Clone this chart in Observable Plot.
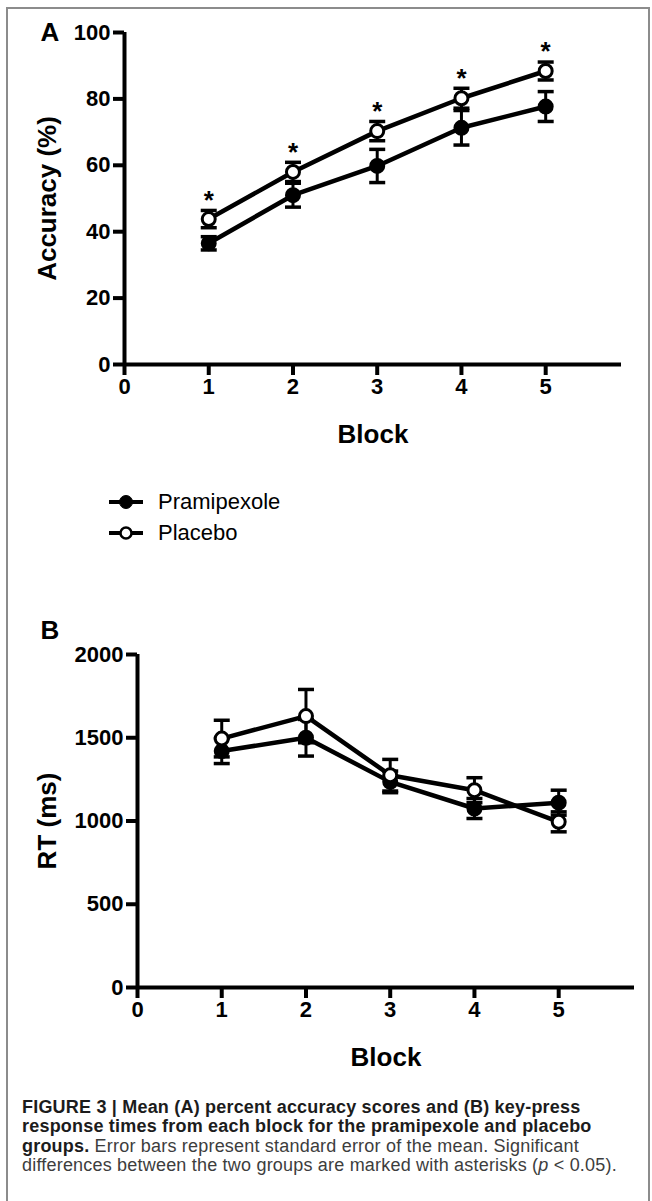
<!DOCTYPE html>
<html>
<head>
<meta charset="utf-8">
<script src="https://cdn.jsdelivr.net/npm/d3@7"></script>
<script src="https://cdn.jsdelivr.net/npm/@observablehq/plot@0.6"></script>
<style>
  body { margin: 0; background: #fff; }
  #page { position: relative; width: 652px; height: 1201px; overflow: hidden; background: #fff;
          font-family: "Liberation Sans", Arial, Helvetica, sans-serif; }
  #frame { position: absolute; left: 6px; top: 7px; width: 640px; height: 1210px;
           border-left: 2px solid #8c8c8c; border-top: 2px solid #8c8c8c; border-right: 2px solid #8c8c8c; }
  #plotA { position: absolute; left: 0; top: 0; }
  #plotB { position: absolute; left: 0; top: 600px; }
  #legend { position: absolute; left: 108px; top: 486px; font-size: 22px; color: #000; }
  .leg-row { display: flex; align-items: center; height: 31px; }
  .leg-row svg { margin-right: 14px; }
  #caption { position: absolute; left: 22px; top: 1098px; font-size: 18px; line-height: 19.4px;
             letter-spacing: 0.2px; white-space: nowrap; color: #3d3d3d; }
  #caption b { color: #1c1c1c; }
</style>
</head>
<body>
<div id="page">
  <div id="frame"></div>
  <div id="plotA"></div>
  <div id="legend"></div>
  <div id="plotB"></div>
  <div id="caption">
    <b>FIGURE 3 | Mean (A) percent accuracy scores and (B) key-press</b><br>
    <b>response times from each block for the pramipexole and placebo</b><br>
    <b>groups.</b> Error bars represent standard error of the mean. Significant<br>
    differences between the two groups are marked with asterisks (<i>p</i> &lt; 0.05).
  </div>
</div>
<script>
// ---- data ----
const blocks = [1, 2, 3, 4, 5];
const groups = ["Pramipexole", "Placebo"];

// Panel A: accuracy (%)
const pramAcc   = [36.5, 51.0, 59.8, 71.3, 77.7];
const pramAccSE = [2.0, 3.6, 5.0, 5.2, 4.5];
const placAcc   = [43.8, 58.0, 70.3, 80.2, 88.4];
const placAccSE = [2.6, 2.9, 2.9, 3.0, 2.7];
const accSignificant = [true, true, true, true, true];

// Panel B: response time (ms)
const pramRT   = [1420, 1500, 1235, 1075, 1110];
const pramRTSE = [75, 110, 65, 60, 75];
const placRT   = [1495, 1630, 1275, 1185, 995];
const placRTSE = [110, 160, 95, 75, 60];
const rtSignificant = [false, false, false, false, false];

// ticks / labels
const blockTicks = [0, 1, 2, 3, 4, 5];
const accTicks = [0, 20, 40, 60, 80, 100];
const rtTicks = [0, 500, 1000, 1500, 2000];
const xLabel = "Block";
const accLabel = "Accuracy (%)";
const rtLabel = "RT (ms)";

// ---- build tables ----
function rows(pm, ps, cm, cs, sig) {
  const out = [];
  blocks.forEach((b, i) => {
    out.push({group: groups[0], block: b, mean: pm[i], se: ps[i], sig: false});
    out.push({group: groups[1], block: b, mean: cm[i], se: cs[i], sig: sig[i]});
  });
  return out;
}
const dataA = rows(pramAcc, pramAccSE, placAcc, placAccSE, accSignificant);
const dataB = rows(pramRT, pramRTSE, placRT, placRTSE, rtSignificant);

const capSymbol = {
  draw(ctx, size) {
    const w = Math.sqrt(size / Math.PI);
    ctx.moveTo(-w, 0);
    ctx.lineTo(w, 0);
  }
};

const FONT = "Liberation Sans, Arial, Helvetica, sans-serif";

function panel({data, yDomain, yTicks, yLabel, panelLabel, height, mt, mb, ml, mr, labelDx, labelDy, yLabelDx}) {
  const isP = d => d.group === groups[0];
  return Plot.plot({
    width: 652, height,
    marginTop: mt, marginBottom: mb, marginLeft: ml, marginRight: mr,
    style: {fontFamily: FONT, fontSize: "22px", fontWeight: "bold", color: "#000", background: "transparent", overflow: "visible"},
    x: {domain: [0, 5.9]},
    y: {domain: yDomain},
    marks: [
      // axes lines
      Plot.ruleX([0], {stroke: "#000", strokeWidth: 4}),
      Plot.ruleY([0], {stroke: "#000", strokeWidth: 4}),
      Plot.axisX({ticks: blockTicks, tickSize: 11, tickPadding: 3, strokeWidth: 4, label: null,
                  fontSize: 22, fontWeight: "bold", tickFormat: d => String(d)}),
      Plot.axisY({ticks: yTicks, tickSize: 11, tickPadding: 3, strokeWidth: 4, label: null,
                  fontSize: 22, fontWeight: "bold", tickFormat: d => String(d)}),
      // axis titles & panel letter
      Plot.text([xLabel], {frameAnchor: "bottom", dy: 70, textAnchor: "middle", lineAnchor: "middle", fontSize: 26, fontWeight: "bold", text: d => d}),
      Plot.text([yLabel], {frameAnchor: "left", dx: yLabelDx, rotate: -90, textAnchor: "middle", lineAnchor: "middle", fontSize: 26, fontWeight: "bold", text: d => d}),
      Plot.text([panelLabel], {frameAnchor: "top-left", textAnchor: "start", dx: labelDx, dy: labelDy, lineAnchor: "middle", fontSize: 26, fontWeight: "bold", text: d => d}),
      // error bars
      Plot.ruleX(data, {x: "block", y1: d => d.mean - d.se, y2: d => d.mean + d.se, stroke: "#000", strokeWidth: 3}),
      Plot.dot(data, {x: "block", y: d => d.mean + d.se, symbol: capSymbol, r: 8, fill: "none", stroke: "#000", strokeWidth: 3.5}),
      Plot.dot(data, {x: "block", y: d => d.mean - d.se, symbol: capSymbol, r: 8, fill: "none", stroke: "#000", strokeWidth: 3.5}),
      // lines
      Plot.line(data, {x: "block", y: "mean", z: "group", stroke: "#000", strokeWidth: 4.5}),
      // markers
      Plot.dot(data, {filter: isP, x: "block", y: "mean", r: 7, fill: "#000", stroke: "#000", strokeWidth: 2}),
      Plot.dot(data, {filter: d => !isP(d), x: "block", y: "mean", r: 6.5, fill: "#fff", stroke: "#000", strokeWidth: 3}),
      // significance asterisks
      Plot.text(data, {filter: d => d.sig, x: "block", y: d => d.mean + d.se, text: () => "*", dy: -10, lineAnchor: "middle", fontSize: 26, fontWeight: "bold"})
    ]
  });
}

document.getElementById("plotA").appendChild(panel({
  data: dataA, yDomain: [0, 100], yTicks: accTicks, yLabel: accLabel, panelLabel: "A",
  height: 460, mt: 32, mb: 96, ml: 124, mr: 31, labelDx: -84, labelDy: 0, yLabelDx: -77
}));

document.getElementById("plotB").appendChild(panel({
  data: dataB, yDomain: [0, 2000], yTicks: rtTicks, yLabel: rtLabel, panelLabel: "B",
  height: 475, mt: 54, mb: 88, ml: 137, mr: 18, labelDx: -97, labelDy: -24, yLabelDx: -90
}));

// legend
const legend = document.getElementById("legend");
groups.forEach((g, i) => {
  const row = document.createElement("div");
  row.className = "leg-row";
  const filled = i === 0;
  row.innerHTML =
    `<svg width="36" height="20" viewBox="0 0 36 20">
       <line x1="1" y1="10" x2="35" y2="10" stroke="#000" stroke-width="4"/>
       <circle cx="18" cy="10" r="${filled ? 6.5 : 5.5}" fill="${filled ? "#000" : "#fff"}" stroke="#000" stroke-width="${filled ? 1 : 2.5}"/>
     </svg><span>${g}</span>`;
  legend.appendChild(row);
});
</script>
</body>
</html>
